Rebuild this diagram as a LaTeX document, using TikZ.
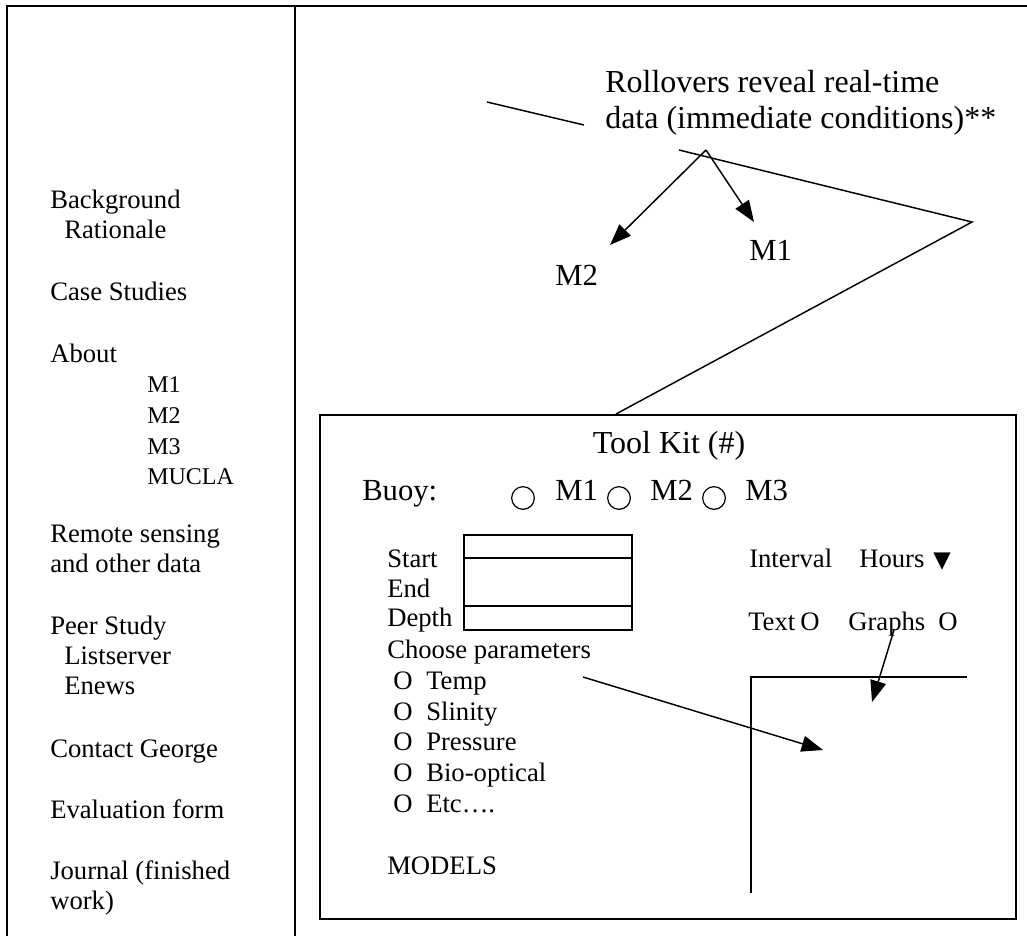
\documentclass[tikz,border=0pt]{standalone}
\usepackage{fontspec}
\setmainfont{Liberation Serif}
\newfontfamily\dejavusym{DejaVu Sans}
\usetikzlibrary{arrows.meta}
\begin{document}
\begin{tikzpicture}[x=0.75pt,y=-0.75pt,
  txt/.style={anchor=base west, inner sep=0pt, font=\fontsize{20}{24}\selectfont},
  big/.style={anchor=base west, inner sep=0pt, font=\fontsize{24}{28}\selectfont},
  mid/.style={anchor=base west, inner sep=0pt, font=\fontsize{23}{27}\selectfont},
  sub/.style={anchor=base west, inner sep=0pt, font=\fontsize{18}{22}\selectfont},
  frame/.style={line width=1.5pt},
  ln/.style={line width=1.1pt},
  arr/.style={ln, -{Triangle[length=16pt,width=12pt]}},
  radio/.style={draw, circle, line width=0.9pt, minimum size=17pt, inner sep=0pt}
]
\useasboundingbox (0,0) rectangle (1027,936);

% outer frame and divider
\coordinate (fbl) at (7,936);
\coordinate (ftl) at (7,6);
\coordinate (ftr) at (1027,6);
\draw[frame] (fbl) -- (ftl) -- (ftr);
\coordinate (dtop) at (295,6);
\coordinate (dbot) at (295,936);
\draw[frame] (dtop) -- (dbot);

% left menu
\node[txt] (bg)   at (50,208) {Background};
\node[txt] (rat)  at (64,238) {Rationale};
\node[txt] (cs)   at (50,300) {Case Studies};
\node[txt] (ab)   at (50,362) {About};
\node[sub] (am1)  at (147,392) {M1};
\node[sub] (am2)  at (147,423) {M2};
\node[sub] (am3)  at (147,454) {M3};
\node[sub] (amu)  at (147,484) {MUCLA};
\node[txt] (rs1)  at (50,542) {Remote sensing};
\node[txt] (rs2)  at (50,572) {and other data};
\node[txt] (ps)   at (50,634) {Peer Study};
\node[txt] (ls)   at (64,664) {Listserver};
\node[txt] (en)   at (64,694) {Enews};
\node[txt] (cg)   at (50,757) {Contact George};
\node[txt] (ef)   at (50,818) {Evaluation form};
\node[txt] (jf1)  at (50,879) {Journal (finished};
\node[txt] (jf2)  at (50,909) {work)};

% top annotation
\node[big] (roll1) at (605,92) {Rollovers reveal real-time};
\node[big] (roll2) at (605,128) {data (immediate conditions)**};
\coordinate (l1a) at (487,102);
\coordinate (l1b) at (584,125);
\draw[ln] (l1a) -- (l1b);

\coordinate (v0) at (679,150);
\coordinate (v1) at (972,222);
\coordinate (v2) at (616,414);
\draw[ln] (v0) -- (v1) -- (v2);

\coordinate (ao) at (706,150);
\coordinate (m2tip) at (610,245);
\coordinate (m1tip) at (754,222);
\draw[arr] (ao) -- (m2tip);
\draw[arr] (ao) -- (m1tip);
\node[mid] (lm2) at (555,285) {M2};
\node[mid] (lm1) at (749,260) {M1};

% tool kit box
\node[draw, frame, inner sep=0pt, anchor=north west, minimum width=522pt, minimum height=378pt] (kit) at (319,414) {};
\node[big, anchor=base] (tk) at (669,453) {Tool Kit (\#)};

\node[mid] (buoy) at (362,500) {Buoy:};
\node[radio] (r1) at (523,498) {};
\node[mid] (b1) at (555,500) {M1};
\node[radio] (r2) at (619,498) {};
\node[mid] (b2) at (650,500) {M2};
\node[radio] (r3) at (714,498) {};
\node[mid] (b3) at (745,500) {M3};

% date fields
\node[txt] (st) at (387,567) {Start};
\node[txt] (ed) at (387,597) {End};
\node[txt] (dp) at (387,626) {Depth};
\node[draw, frame, inner sep=0pt, anchor=north west, minimum width=126pt, minimum height=71.25pt] (dbox) at (463,534) {};
\coordinate (s1a) at (463,558);
\coordinate (s1b) at (631,558);
\coordinate (s2a) at (463,606);
\coordinate (s2b) at (631,606);
\draw[frame] (s1a) -- (s1b);
\draw[frame] (s2a) -- (s2b);

% interval / output
\node[txt] (iv) at (749,567) {Interval};
\node[txt] (hr) at (859,567) {Hours};
\node[anchor=base west, inner sep=0pt, font=\dejavusym\fontsize{17}{20}\selectfont] (tri) at (933,567) {▼};
\node[txt] (tx)  at (748,630) {Text};
\node[txt] (to)  at (800,630) {O};
\node[txt] (gr)  at (848,630) {Graphs};
\node[txt] (go)  at (938,630) {O};

% parameters
\node[txt] (cp) at (387,658) {Choose parameters};
\node[txt] (o1) at (393,689) {O};
\node[txt] (p1) at (426,689) {Temp};
\node[txt] (o2) at (393,720) {O};
\node[txt] (p2) at (426,720) {Slinity};
\node[txt] (o3) at (393,750) {O};
\node[txt] (p3) at (426,750) {Pressure};
\node[txt] (o4) at (393,781) {O};
\node[txt] (p4) at (426,781) {Bio-optical};
\node[txt] (o5) at (393,812) {O};
\node[txt] (p5) at (426,812) {Etc….};
\node[txt] (md) at (387,874) {MODELS};

% graph area
\coordinate (g1) at (751,893);
\coordinate (g2) at (751,677);
\coordinate (g3) at (967,677);
\draw[ln] (g1) -- (g2) -- (g3);

\coordinate (cp0) at (583,677);
\coordinate (cptip) at (823,750);
\draw[arr] (cp0) -- (cptip);
\coordinate (gr0) at (894,630);
\coordinate (grtip) at (872,702);
\draw[arr] (gr0) -- (grtip);
\end{tikzpicture}
\end{document}
